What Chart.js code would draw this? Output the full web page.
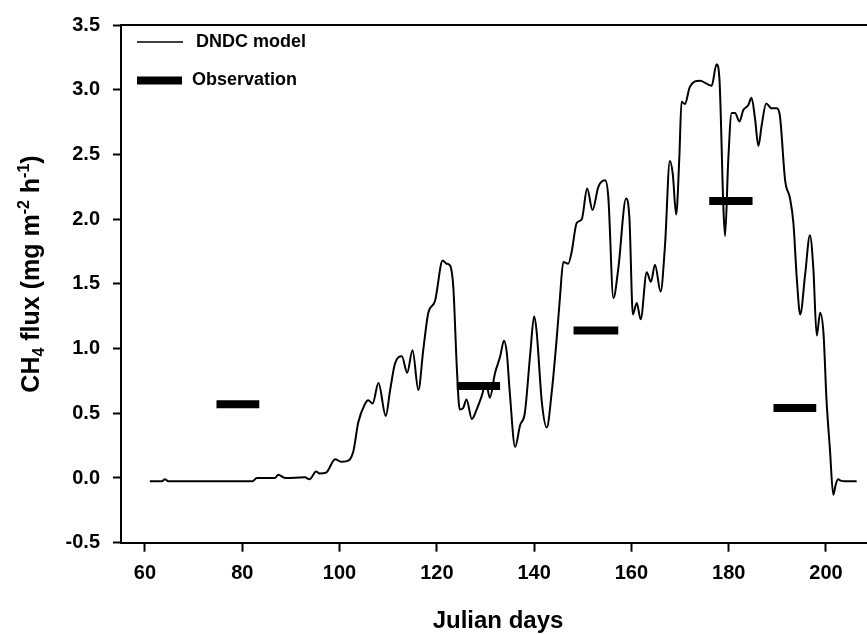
<!DOCTYPE html>
<html>
<head>
<meta charset="utf-8">
<script src="https://cdn.jsdelivr.net/npm/chart.js@4/dist/chart.umd.min.js"></script>
<style>
  html, body { margin: 0; padding: 0; background: #fff; }
  #wrap { width: 867px; height: 634px; }
</style>
</head>
<body>
<div id="wrap"><canvas id="canvas-CH4" width="867" height="634"></canvas></div>
<script>
// DNDC model output (day of year, CH4 flux in mg m-2 h-1)
const modelDays = [
  61.0, 63.5, 64.1, 64.8, 82.1, 83.0, 86.7, 87.4, 88.8, 92.9,
  93.8, 95.2, 95.9, 97.2, 99.1, 100.3, 101.5, 102.8, 103.85, 105.2,
  105.9, 106.8, 108.0, 109.5, 110.4, 111.4, 112.8, 113.9, 115.0, 116.2,
  117.2, 118.25, 119.6, 121.2, 122.0, 122.7, 123.4, 124.1, 124.7, 125.4,
  126.1, 127.2, 128.2, 129.2, 130.1, 130.9, 131.95, 133.0, 133.8, 134.4,
  135.0, 136.1, 137.1, 138.1, 139.2, 140.0, 140.5, 141.6, 142.6, 143.6,
  144.6, 145.3, 146.0, 147.0, 147.7, 148.75, 149.8, 150.9, 152.0, 153.2,
  154.6, 155.25, 156.3, 157.3, 158.9, 159.6, 160.3, 161.1, 161.9, 163.15,
  164.0, 164.85, 166.0, 166.9, 167.9, 168.5, 169.2, 169.85, 170.3, 171.0,
  172.0, 174.1, 176.5, 177.5, 178.1, 178.9, 179.25, 179.9, 180.6, 181.3,
  182.2, 183.0, 184.0, 184.7, 185.4, 186.1, 186.8, 187.7, 188.8, 189.9,
  190.55, 191.6, 192.6, 193.3, 194.0, 194.7, 195.7, 196.7, 197.4, 198.1,
  198.8, 199.5, 200.1, 200.8, 201.5, 202.0, 202.5, 203.0, 203.9, 206.3
];
const modelFlux = [
  -0.025, -0.025, -0.01, -0.025, -0.025, 0.0, 0.0, 0.025, 0.0, 0.005,
  -0.01, 0.05, 0.035, 0.04, 0.145, 0.125, 0.13, 0.2, 0.43, 0.57,
  0.6, 0.576, 0.733, 0.48, 0.68, 0.885, 0.94, 0.814, 0.986, 0.68,
  0.986, 1.277, 1.365, 1.68, 1.656, 1.643, 1.466, 0.86, 0.53, 0.54,
  0.607, 0.455, 0.53, 0.63, 0.733, 0.62, 0.81, 0.936, 1.06, 0.96,
  0.657, 0.24, 0.405, 0.506, 0.96, 1.25, 1.137, 0.58, 0.39, 0.657,
  1.06, 1.39, 1.668, 1.656, 1.744, 1.97, 2.0, 2.237, 2.07, 2.25,
  2.3, 2.17, 1.39, 1.618, 2.16, 2.0, 1.264, 1.353, 1.226, 1.59,
  1.516, 1.648, 1.44, 1.795, 2.45, 2.35, 2.035, 2.477, 2.907, 2.89,
  3.02, 3.07, 3.03, 3.197, 3.08, 2.1, 1.87, 2.45, 2.82, 2.82,
  2.755, 2.843, 2.88, 2.937, 2.78, 2.566, 2.73, 2.894, 2.856, 2.856,
  2.79, 2.3, 2.16, 1.97, 1.54, 1.264, 1.567, 1.876, 1.618, 1.1,
  1.277, 1.11, 0.607, 0.227, -0.13, -0.05, -0.01, -0.02, -0.025, -0.025
];

// field observations: averaged over a sampling period (start day, end day, flux)
const obsStart = [74.7, 124.1, 148.1, 176.0, 189.2];
const obsEnd = [83.5, 133.0, 157.3, 184.9, 198.0];
const obsFlux = [0.57, 0.71, 1.14, 2.14, 0.54];

const xTicks = [60, 80, 100, 120, 140, 160, 180, 200];
const yTicks = [-0.5, 0.0, 0.5, 1.0, 1.5, 2.0, 2.5, 3.0, 3.5];

const FONT = "'Liberation Sans', Arial, sans-serif";

let modelPoints = modelDays.map((d, i) => ({ x: d, y: modelFlux[i] }));

// one segment per observation, null point in between breaks the line
let obsPoints = [];
obsFlux.forEach((v, i) => {
  obsPoints.push({ x: obsStart[i], y: v });
  obsPoints.push({ x: obsEnd[i], y: v });
  obsPoints.push({ x: obsEnd[i], y: null });
});

// frame top line, legend and axis titles (the y title needs sub/superscripts)
const decorPlugin = {
  id: "decor",
  afterDraw(chart) {
    const ctx = chart.ctx;
    const area = chart.chartArea;
    ctx.save();
    ctx.strokeStyle = "#000";
    ctx.fillStyle = "#000";

    ctx.lineWidth = 2;
    ctx.beginPath();
    ctx.moveTo(area.left - 1, area.top);
    ctx.lineTo(area.right, area.top);
    ctx.stroke();

    // legend
    ctx.lineWidth = 1.5;
    ctx.beginPath();
    ctx.moveTo(137, 42);
    ctx.lineTo(183, 42);
    ctx.stroke();
    ctx.lineWidth = 8;
    ctx.beginPath();
    ctx.moveTo(137, 80.5);
    ctx.lineTo(182, 80.5);
    ctx.stroke();
    ctx.font = "bold 18px " + FONT;
    ctx.textBaseline = "middle";
    ctx.textAlign = "left";
    ctx.fillText("DNDC model", 196, 42);
    ctx.fillText("Observation", 192, 80);

    // x title
    ctx.font = "bold 24px " + FONT;
    ctx.textAlign = "center";
    ctx.textBaseline = "alphabetic";
    ctx.fillText("Julian days", 498, 628);

    // y title, rotated
    const big = "bold 25px " + FONT;
    const small = "bold 16px " + FONT;
    const parts = [
      { t: "CH", f: big, dy: 0 },
      { t: "4", f: small, dy: 5 },
      { t: " flux (mg m", f: big, dy: 0 },
      { t: "-2", f: small, dy: -10 },
      { t: " h", f: big, dy: 0 },
      { t: "-1", f: small, dy: -10 },
      { t: ")", f: big, dy: 0 },
    ];
    let total = 0;
    parts.forEach((p) => {
      ctx.font = p.f;
      p.w = ctx.measureText(p.t).width;
      total += p.w;
    });
    ctx.translate(39, 274);
    ctx.rotate(-Math.PI / 2);
    ctx.textAlign = "left";
    let pos = -total / 2;
    parts.forEach((p) => {
      ctx.font = p.f;
      ctx.fillText(p.t, pos, p.dy);
      pos += p.w;
    });
    ctx.restore();
  },
};

let context = document.getElementById("canvas-CH4").getContext("2d");
const ch4Chart = new Chart(context, {
  type: "line",
  data: {
    datasets: [
      {
        label: "DNDC model",
        data: modelPoints,
        borderColor: "#000",
        borderWidth: 2,
        pointRadius: 0,
        cubicInterpolationMode: "monotone",
        fill: false,
      },
      {
        label: "Observation",
        data: obsPoints,
        borderColor: "#000",
        borderWidth: 8,
        borderCapStyle: "butt",
        pointRadius: 0,
        spanGaps: false,
        fill: false,
      },
    ],
  },
  options: {
    responsive: false,
    animation: false,
    events: [],
    layout: { padding: { left: 0, right: 0, top: 15, bottom: 0 } },
    plugins: {
      legend: { display: false },
      tooltip: { enabled: false },
    },
    scales: {
      x: {
        type: "linear",
        min: 55.07,
        max: 208.43,
        afterBuildTicks: (scale) => {
          scale.ticks = xTicks.map((v) => ({ value: v }));
        },
        afterFit: (scale) => {
          scale.height = 91.3;
        },
        border: { display: true, color: "#000", width: 2 },
        grid: {
          drawOnChartArea: false,
          drawTicks: true,
          tickLength: 9,
          tickWidth: 2,
          tickColor: "#000",
        },
        ticks: {
          color: "#000",
          font: { family: FONT, size: 20, weight: "bold" },
          padding: 10,
          maxRotation: 0,
        },
      },
      y: {
        type: "linear",
        min: -0.5,
        max: 3.5,
        afterBuildTicks: (scale) => {
          scale.ticks = yTicks.map((v) => ({ value: v }));
        },
        afterFit: (scale) => {
          scale.width = 121;
        },
        border: { display: true, color: "#000", width: 2 },
        grid: {
          drawOnChartArea: false,
          drawTicks: true,
          tickLength: 8,
          tickWidth: 2,
          tickColor: "#000",
        },
        ticks: {
          color: "#000",
          font: { family: FONT, size: 20, weight: "bold" },
          padding: 13,
          callback: (v) => Number(v).toFixed(1),
        },
      },
    },
  },
  plugins: [decorPlugin],
});
</script>
</body>
</html>
